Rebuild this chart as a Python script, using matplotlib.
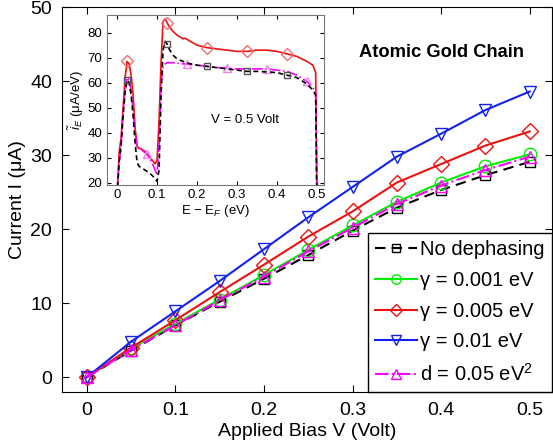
import numpy as np
import matplotlib
matplotlib.use("Agg")
import matplotlib.pyplot as plt

plt.rcParams['font.family'] = ['Liberation Sans', 'DejaVu Sans']
plt.rcParams['mathtext.fontset'] = 'custom'
plt.rcParams['mathtext.rm'] = 'Liberation Sans'
plt.rcParams['mathtext.it'] = 'Liberation Sans:italic'

# ---------------- main data ----------------
bias = [0, 0.05, 0.1, 0.15, 0.2, 0.25, 0.3, 0.35, 0.4, 0.45, 0.5]
I_nodeph = [0, 3.6, 7.0, 10.2, 13.3, 16.5, 19.8, 22.9, 25.3, 27.3, 29.1]
I_g0001 = [0, 3.9, 7.2, 10.5, 13.8, 17.2, 20.5, 23.7, 26.3, 28.5, 30.1]
I_g0005 = [0, 4.0, 7.7, 11.5, 15.2, 19.0, 22.4, 26.3, 28.8, 31.3, 33.2]
I_g001 = [0, 4.8, 8.9, 13.0, 17.3, 21.6, 25.7, 29.8, 32.9, 36.1, 38.6]
I_d005 = [0, 3.7, 7.0, 10.4, 13.6, 17.0, 20.2, 23.4, 25.9, 28.0, 29.8]

labels = ['No dephasing', 'γ = 0.001 eV', 'γ = 0.005 eV', 'γ = 0.01 eV', 'd = 0.05 eV$^2$']

# ---------------- inset data ----------------
E_inset = [0, 0.005, 0.01, 0.015, 0.02, 0.025, 0.03, 0.035, 0.04, 0.045, 0.05,
           0.055, 0.06, 0.07, 0.075, 0.08, 0.09, 0.095, 0.1, 0.105, 0.11, 0.115,
           0.12, 0.125, 0.13, 0.14, 0.15, 0.165, 0.17, 0.175, 0.2, 0.225, 0.25,
           0.275, 0.3, 0.325, 0.35, 0.375, 0.4, 0.425, 0.45, 0.475, 0.49, 0.497, 0.5]
iE_red = [15, 32, 38, 50, 62, 68.5, 67.5, 63, 55, 42, 34.5,
          33.8, 33.5, 32.5, 31.5, 30.5, 28.5, 27.5, 29, 45, 68, 84.5,
          85.5, 84, 82.5, 80.5, 79, 77.5, 77.8, 77.3, 75, 74, 73.5,
          73, 72.5, 72.5, 73, 73, 72.5, 71.5, 70.5, 68.5, 67, 64, 15]
iE_black = [15, 28, 35, 47, 56, 61, 60, 55, 47, 36, 28,
            26.5, 26, 25, 24.5, 24, 22.5, 21.5, 20.5, 25, 55, 73,
            76.5, 75.5, 73.5, 71, 69.5, 68.5, 68, 67.8, 67, 66.5, 66,
            65.5, 65, 64.5, 64.5, 64.3, 64, 63, 62, 59.5, 57, 55, 15]
iE_mag = [15, 28, 35, 48, 57, 62, 61, 57, 49, 40, 34,
          33.5, 33.2, 32, 31.3, 30, 27, 25, 23, 35, 60, 66,
          67.5, 68, 68, 68, 67.8, 67.5, 67.5, 67.5, 67, 66.5, 66,
          65.8, 65.5, 65.5, 65.5, 65.5, 65, 64.5, 63, 60.5, 58, 56, 15]
mark_red_black = [0.025, 0.125, 0.225, 0.325, 0.425]
mark_mag = [0.075, 0.175, 0.275, 0.375, 0.475]

fig = plt.figure(figsize=(5.53, 4.46), dpi=100)
ax = fig.add_axes([0.112, 0.121, 0.886, 0.863])

ms = 9
lw = 1.5
ax.plot(bias, I_nodeph, color='black', ls='--', marker='s', ms=7, mfc='none', lw=lw, label=labels[0], dashes=(5, 3))
ax.plot(bias, I_g0001, color='#00ee00', ls='-', marker='o', ms=ms, mfc='none', lw=lw, label=labels[1])
ax.plot(bias, I_g0005, color='#ee1111', ls='-', marker='D', ms=8, mfc='none', lw=lw, label=labels[2])
ax.plot(bias, I_g001, color='#1122ee', ls='-', marker='v', ms=ms, mfc='none', lw=lw, label=labels[3])
ax.plot(bias, I_d005, color='#ff00ff', ls='-.', marker='^', ms=ms, mfc='none', lw=lw, label=labels[4])

ax.set_xlim(-0.028, 0.525)
ax.set_ylim(-2, 50)
ax.set_xticks([0, 0.1, 0.2, 0.3, 0.4, 0.5])
ax.set_xticklabels(['0', '0.1', '0.2', '0.3', '0.4', '0.5'])
ax.set_yticks([0, 10, 20, 30, 40, 50])
ax.tick_params(direction='in', top=True, right=True, labelsize=14, length=5, pad=7)
ax.set_xlabel('Applied Bias V (Volt)', fontsize=14, labelpad=3)
ax.set_ylabel('Current I (μA)', fontsize=14, labelpad=3)
ax.text(0.775, 0.883, 'Atomic Gold Chain', transform=ax.transAxes, fontsize=13.2,
        fontweight='bold', ha='center', va='center')

leg = ax.legend(loc='lower right', bbox_to_anchor=(1.0, 0.0), fontsize=14.5, frameon=True,
                fancybox=False, framealpha=1, edgecolor='black', handlelength=2.1,
                handletextpad=0.15, borderpad=0.35, labelspacing=0.58, borderaxespad=0.0,
                markerscale=0.75)
leg.get_frame().set_linewidth(1.0)

# ---------------- inset ----------------
ins = fig.add_axes([0.193, 0.585, 0.393, 0.381])
E = np.array(E_inset)
idx_rb = [int(np.argmin(np.abs(E - v))) for v in mark_red_black]
idx_m = [int(np.argmin(np.abs(E - v))) for v in mark_mag]
ins.plot(E_inset, iE_red, color='#ee1111', lw=1.2, marker='D', ms=6, mfc='none',
         mec='#f07070', markevery=idx_rb)
ins.plot(E_inset, iE_mag, color='#ff00ff', lw=1.2, ls='-.', marker='^', ms=6, mfc='none',
         mec='#f080f0', markevery=idx_m)
ins.plot(E_inset, iE_black, color='black', lw=1.2, ls='--', marker='s', ms=5, mfc='none',
         mec='#555555', markevery=idx_rb, dashes=(3, 2))
ins.set_xlim(-0.026, 0.518)
ins.set_ylim(19, 87)
ins.set_xticks([0, 0.1, 0.2, 0.3, 0.4, 0.5])
ins.set_xticklabels(['0', '0.1', '0.2', '0.3', '0.4', '0.5'])
ins.set_yticks([20, 30, 40, 50, 60, 70, 80])
ins.tick_params(direction='in', top=True, right=True, labelsize=9.5, length=3, pad=3)
for s in ins.spines.values():
    s.set_color('#777777')
ins.set_xlabel('E − E$_F$ (eV)', fontsize=9.5, labelpad=1)
ins.set_ylabel(r'$\tilde{i}_E$ (μA/eV)', fontsize=9.5, labelpad=1)
ins.text(0.32, 45, 'V = 0.5 Volt', fontsize=9.5, ha='center', va='center')

fig.savefig('out.png', dpi=100)
